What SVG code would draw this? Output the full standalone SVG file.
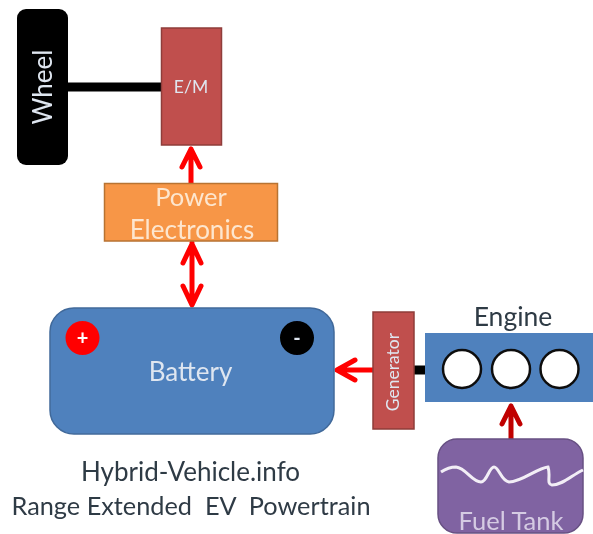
<svg xmlns="http://www.w3.org/2000/svg" width="593" height="534" viewBox="0 0 593 534">
<style>
text{font-family:Lato,"Open Sans","Liberation Sans",sans-serif;text-anchor:middle}
.w{fill:#dfe6f0}
.d{fill:#2f3a45}
.blue{fill:#4f81bd;stroke:#41699a;stroke-width:1.5}
.red{fill:#c0504d;stroke:#8f3d3a;stroke-width:1.5}
.arrow{fill:none;stroke:#ff0000;stroke-width:5;stroke-linecap:round;stroke-linejoin:round}
</style>
<defs><filter id="soft" x="-2%" y="-2%" width="104%" height="104%"><feGaussianBlur stdDeviation="0.7"/></filter></defs>
<rect width="593" height="534" fill="#fff"/>
<g filter="url(#soft)">
<g id="connectors">
<line x1="68" y1="87" x2="161" y2="87" stroke="#000" stroke-width="9"/>
<line x1="414" y1="370" x2="425" y2="370" stroke="#000" stroke-width="9"/>
<path class="arrow" d="M191 183V149M182 167L191 149L200 167"/>
<path class="arrow" d="M192 243V304M183 263L192 244L201 263M183 286L192 305L201 286"/>
<path class="arrow" d="M373 370H337M355 360L337 370L355 380"/>
<path class="arrow" style="stroke:#c00000" d="M511 439V406M502 424L511 406L520 424"/>
</g>
<g id="wheel"><rect x="17" y="9" width="51" height="156" rx="9" fill="#000"/>
<text transform="translate(52 87) rotate(-90)" font-size="26" class="w">Wheel</text></g>
<g id="em"><rect class="red" x="161.500" y="28" width="60" height="117"/>
<text x="191" y="93" font-size="17.500" class="w">E/M</text></g>
<g id="power-electronics"><rect x="104.500" y="183.500" width="173" height="57.500" fill="#f79646" stroke="#b87333" stroke-width="1.500"/>
<text x="191" y="206" font-size="25.500" fill="#fde6cf">Power</text>
<text x="192" y="239" font-size="26" fill="#fde6cf">Electronics</text></g>
<g id="battery"><rect class="blue" x="50" y="308" width="284" height="126" rx="24"/>
<circle cx="82.500" cy="338" r="17" fill="#ff0000"/>
<text x="82.500" y="345" font-size="20" font-weight="700" fill="#fff">+</text>
<circle cx="297" cy="338" r="17" fill="#000"/>
<text x="297" y="345" font-size="20" font-weight="700" class="w">-</text>
<text x="190.500" y="381" font-size="26" class="w">Battery</text></g>
<g id="generator"><rect class="red" x="373" y="312" width="41" height="117"/>
<text transform="translate(399 372) rotate(-90)" font-size="17.500" class="w">Generator</text></g>
<g id="engine"><rect x="425" y="333" width="168" height="69" fill="#4f81bd"/>
<circle cx="462" cy="369" r="19" fill="#fff" stroke="#111" stroke-width="2.500"/>
<circle cx="511" cy="369" r="19" fill="#fff" stroke="#111" stroke-width="2.500"/>
<circle cx="559.500" cy="369" r="19" fill="#fff" stroke="#111" stroke-width="2.500"/>
<text x="513" y="326" font-size="26.500" class="d">Engine</text></g>
<g id="fuel-tank"><rect x="438" y="439" width="145" height="94" rx="19" fill="#8064a2" stroke="#675083" stroke-width="1.500"/>
<path d="M441 472C447 468 452 467 456 467C466 468 472 482 481 482C487 482 489 467 494 467C499 467 501 481 509 482C522 482 537 468 548 467C551 476 546 484 552 485C563 485 572 475 583 470" fill="none" stroke="#f2eef6" stroke-width="3"/>
<text x="511" y="530" font-size="25.500" fill="#d5cbe3">Fuel Tank</text></g>
<g id="caption">
<text x="190.500" y="481" font-size="26" class="d">Hybrid-Vehicle.info</text>
<text x="191" y="515" font-size="25.300" class="d" xml:space="preserve">Range Extended  EV  Powertrain</text></g>
</g>
</svg>
